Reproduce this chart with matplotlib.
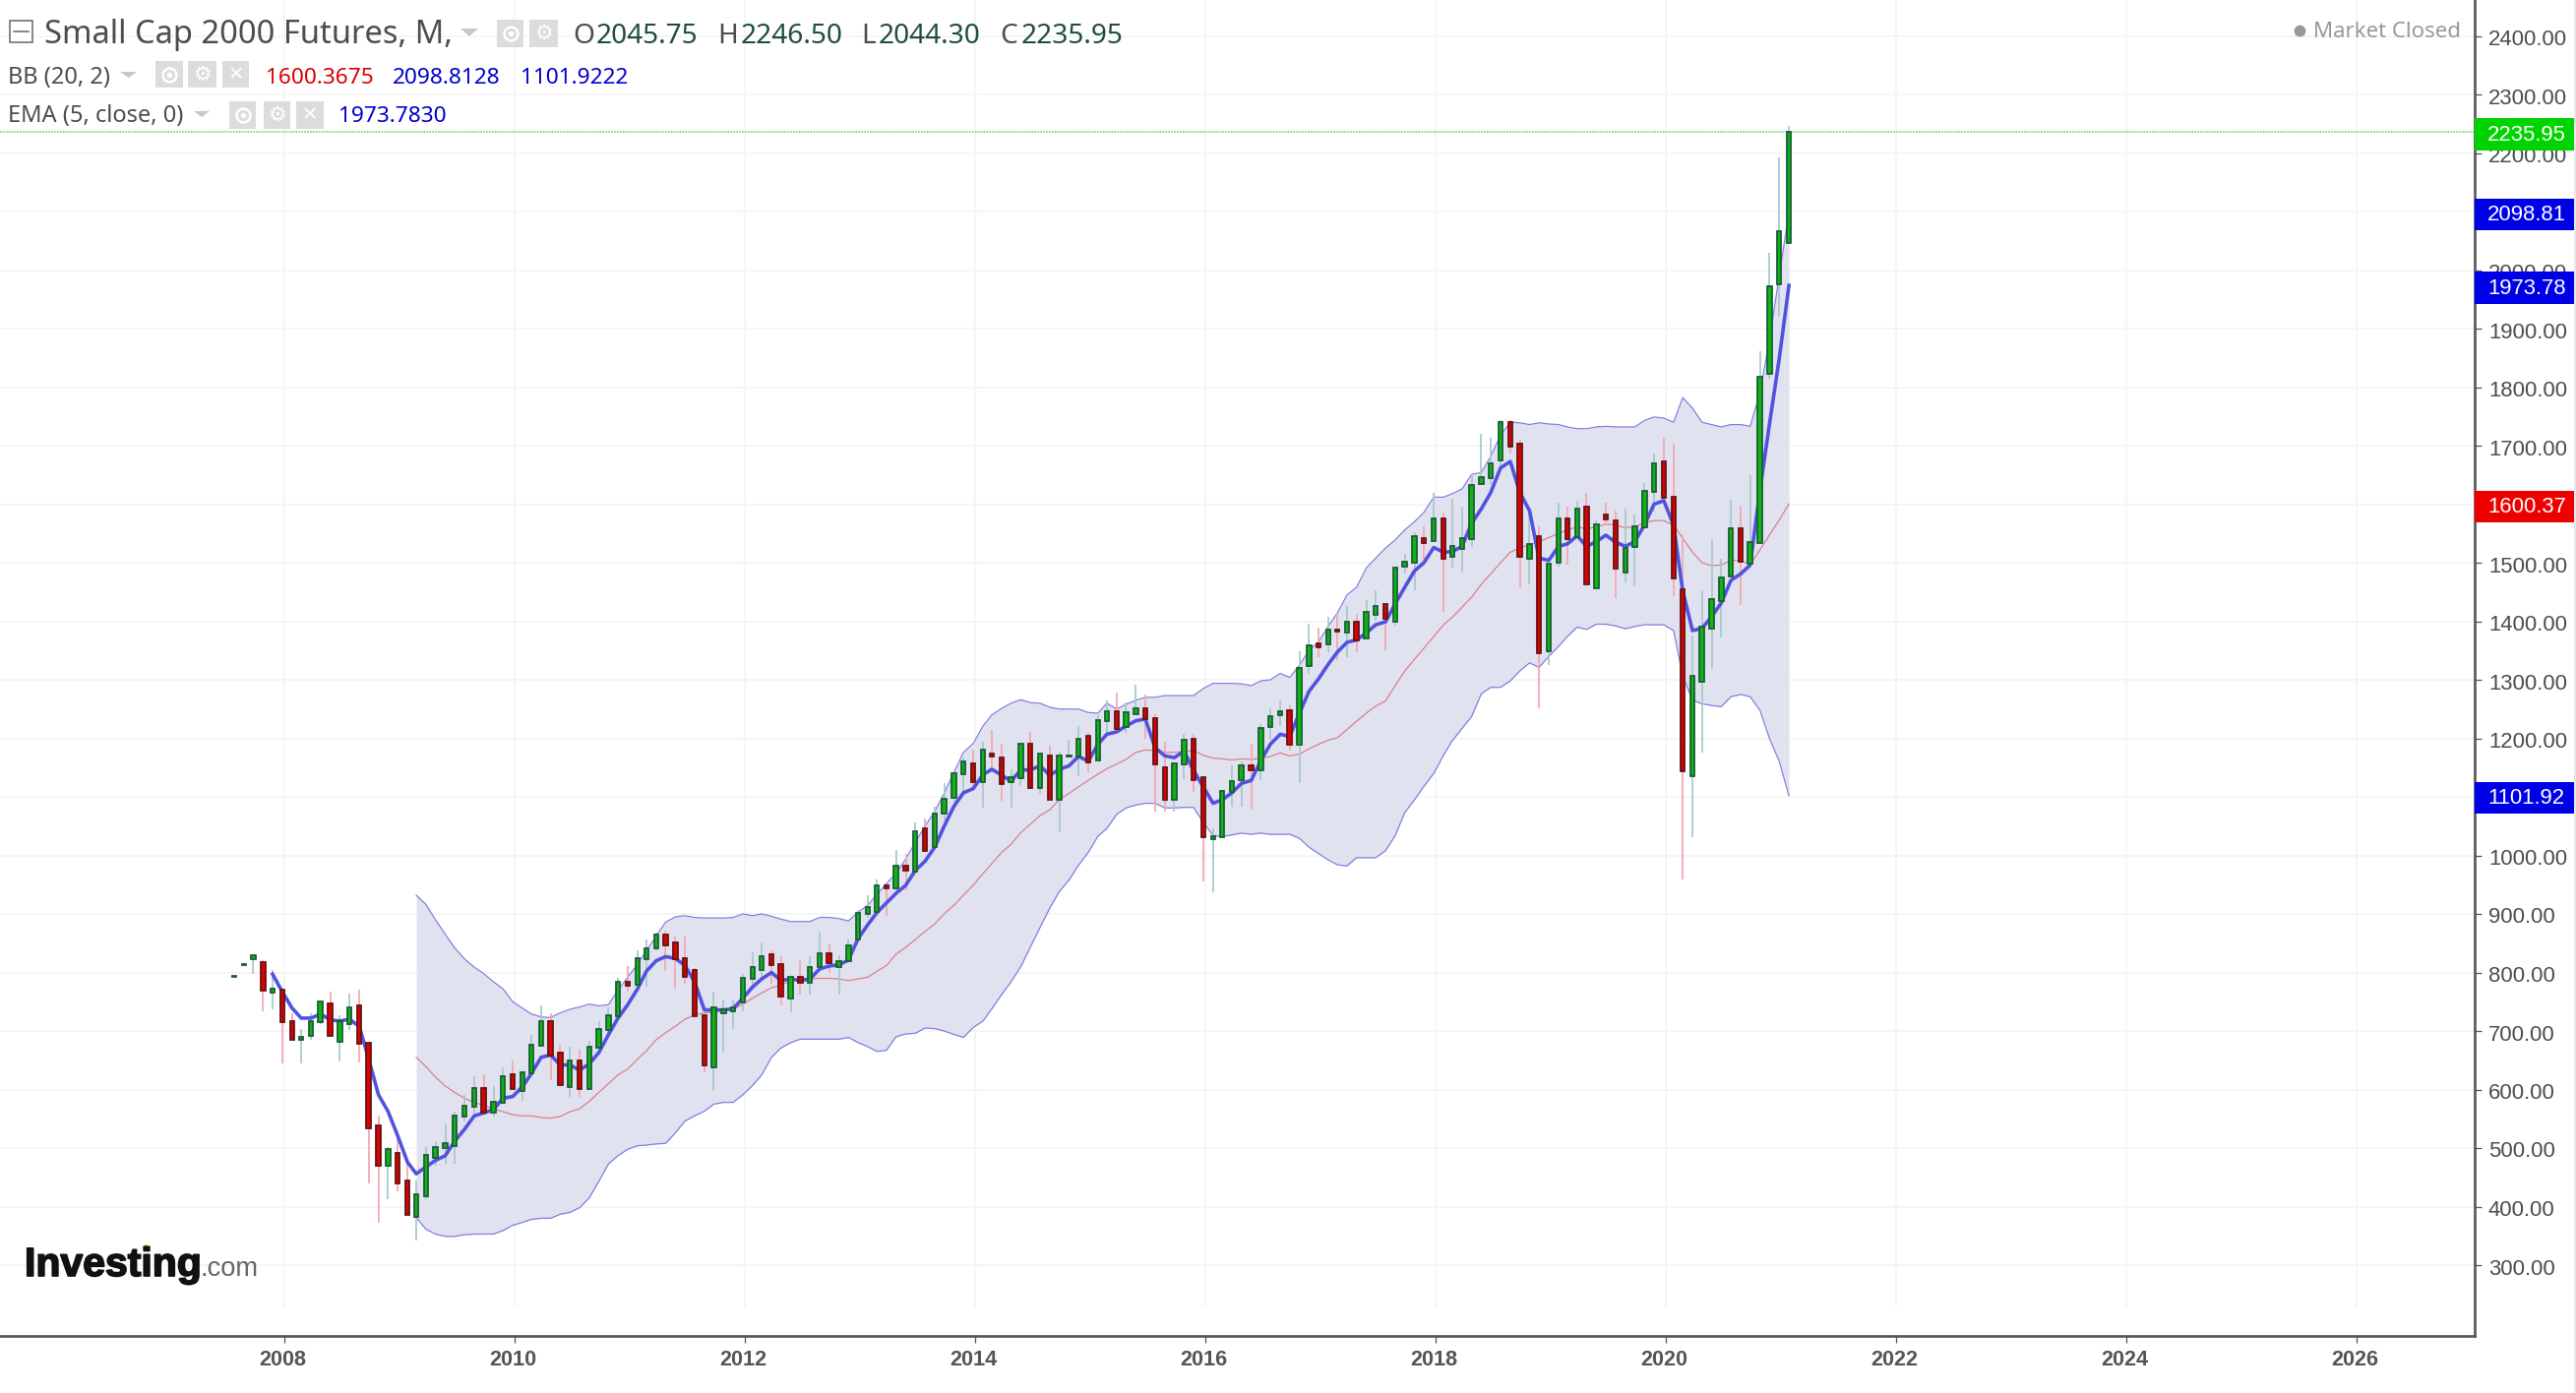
import pandas as pd
import numpy as np
import matplotlib
matplotlib.use("Agg")
import matplotlib.pyplot as plt
import matplotlib.dates as mdates
import matplotlib.patheffects as pe
from matplotlib.patches import Rectangle
from matplotlib.transforms import ScaledTranslation

# monthly candles, Aug 2007 - Feb 2021
opens = [793, 813, 822, 817, 765,
    770, 717, 685, 691, 715, 747, 681, 711, 743, 680, 539, 470,
    492, 445, 383, 417, 483, 500, 503, 554, 571, 602, 560, 577,
    626, 597, 628, 675, 717, 663, 604, 649, 601, 671, 701, 725,
    784, 779, 822, 842, 864, 851, 824, 804, 727, 638, 731, 734,
    748, 789, 805, 831, 814, 755, 793, 782, 809, 833, 809, 819,
    857, 900, 903, 948, 944, 982, 972, 1046, 1014, 1071, 1098, 1138,
    1157, 1125, 1174, 1167, 1125, 1132, 1190, 1115, 1170, 1095, 1169, 1169,
    1204, 1162, 1229, 1247, 1219, 1242, 1251, 1234, 1150, 1095, 1155, 1200,
    1133, 1028, 1031, 1108, 1128, 1153, 1145, 1219, 1239, 1248, 1189, 1323,
    1362, 1360, 1385, 1380, 1399, 1370, 1411, 1429, 1400, 1494, 1500, 1542,
    1537, 1575, 1510, 1524, 1541, 1635, 1645, 1675, 1740, 1703, 1507, 1545,
    1349, 1500, 1575, 1544, 1595, 1457, 1582, 1572, 1484, 1527, 1561, 1621,
    1673, 1612, 1454, 1135, 1297, 1388, 1434, 1477, 1559, 1498, 1534, 1823,
    1976, 2045.75]
highs = [794, 814, 830, 821, 804,
    770, 731, 704, 731, 750, 767, 727, 764, 770, 680, 556, 501,
    519, 473, 445, 502, 512, 542, 563, 591, 623, 626, 606, 637,
    649, 629, 693, 743, 731, 676, 673, 668, 683, 717, 740, 790,
    811, 838, 857, 868, 871, 862, 862, 807, 727, 767, 753, 753,
    798, 834, 851, 837, 827, 793, 821, 827, 870, 850, 830, 857,
    907, 932, 959, 948, 1010, 1002, 1057, 1063, 1084, 1124, 1140, 1167,
    1180, 1194, 1214, 1190, 1147, 1190, 1211, 1174, 1187, 1177, 1198, 1221,
    1210, 1240, 1264, 1278, 1261, 1291, 1274, 1241, 1194, 1157, 1207, 1207,
    1133, 1046, 1112, 1153, 1160, 1190, 1224, 1251, 1265, 1256, 1349, 1396,
    1389, 1408, 1414, 1426, 1412, 1436, 1453, 1429, 1492, 1515, 1552, 1562,
    1620, 1586, 1609, 1596, 1652, 1720, 1713, 1744, 1744, 1710, 1589, 1562,
    1498, 1603, 1596, 1606, 1620, 1572, 1603, 1589, 1593, 1583, 1636, 1687,
    1714, 1704, 1547, 1376, 1453, 1540, 1506, 1607, 1598, 1650, 1862, 2030,
    2192, 2246.5]
lows = [793, 813, 798, 734, 737,
    644, 685, 644, 685, 711, 691, 648, 701, 647, 440, 373, 413,
    426, 386, 342, 412, 469, 473, 473, 546, 554, 560, 554, 577,
    601, 580, 628, 675, 616, 607, 586, 586, 601, 671, 689, 725,
    768, 779, 775, 837, 802, 772, 781, 725, 630, 597, 663, 704,
    733, 778, 792, 781, 744, 732, 762, 762, 809, 799, 762, 819,
    857, 893, 903, 896, 933, 941, 972, 1007, 1014, 1058, 1084, 1106,
    1112, 1081, 1145, 1091, 1081, 1118, 1115, 1105, 1095, 1040, 1169, 1135,
    1142, 1162, 1207, 1216, 1209, 1242, 1199, 1075, 1075, 1075, 1131, 1108,
    956, 937, 1031, 1084, 1084, 1078, 1128, 1198, 1221, 1179, 1124, 1310,
    1339, 1347, 1333, 1339, 1347, 1370, 1401, 1350, 1393, 1482, 1453, 1497,
    1537, 1416, 1490, 1484, 1527, 1635, 1633, 1658, 1687, 1456, 1463, 1251,
    1325, 1494, 1497, 1544, 1463, 1457, 1564, 1440, 1466, 1460, 1561, 1587,
    1611, 1443, 959, 1031, 1176, 1319, 1372, 1477, 1427, 1498, 1534, 1814,
    1920, 2044.3]
closes = [793.5, 813.5, 830, 769, 773,
    715, 685, 690, 717, 750, 691, 717, 740, 678, 534, 470, 498,
    440, 386, 421, 488, 502, 508, 555, 572, 602, 560, 579, 623,
    601, 629, 676, 717, 658, 607, 649, 601, 673, 703, 727, 784,
    778, 824, 841, 864, 846, 822, 792, 725, 641, 740, 737, 740,
    790, 810, 827, 812, 758, 793, 782, 810, 833, 816, 820, 847,
    901, 911, 948, 944, 982, 974, 1042, 1007, 1072, 1096, 1140, 1160,
    1125, 1180, 1169, 1122, 1133, 1190, 1115, 1174, 1095, 1170, 1170, 1200,
    1159, 1231, 1247, 1216, 1244, 1251, 1232, 1155, 1095, 1157, 1197, 1128,
    1031, 1033, 1110, 1127, 1153, 1145, 1217, 1237, 1247, 1189, 1321, 1358,
    1356, 1385, 1383, 1399, 1367, 1416, 1426, 1404, 1492, 1501, 1545, 1534,
    1575, 1507, 1528, 1542, 1632, 1646, 1669, 1740, 1698, 1510, 1532, 1346,
    1498, 1575, 1541, 1592, 1463, 1565, 1574, 1490, 1525, 1562, 1622, 1669,
    1611, 1473, 1144, 1307, 1391, 1438, 1475, 1559, 1501, 1535, 1817, 1973,
    2066, 2235.95]

# EMA (5), starts Dec 2007
ema = [797,
    767, 739, 722, 722, 729, 719, 717, 720, 708, 652, 591, 563,
    521, 476, 456, 468, 479, 487, 512, 532, 555, 560, 566, 585,
    588, 605, 627, 655, 659, 642, 642, 633, 644, 663, 694, 722,
    745, 772, 802, 820, 827, 824, 812, 784, 736, 736, 736, 738,
    756, 775, 789, 800, 786, 789, 786, 789, 806, 811, 813, 821,
    858, 882, 902, 919, 935, 949, 974, 990, 1014, 1050, 1084, 1107,
    1114, 1138, 1147, 1137, 1127, 1146, 1146, 1153, 1137, 1147, 1153, 1169,
    1161, 1190, 1207, 1211, 1221, 1230, 1233, 1184, 1170, 1167, 1178, 1145,
    1117, 1089, 1095, 1107, 1123, 1128, 1162, 1190, 1207, 1203, 1243, 1280,
    1302, 1327, 1347, 1364, 1368, 1380, 1394, 1399, 1430, 1458, 1486, 1500,
    1526, 1518, 1519, 1528, 1567, 1592, 1620, 1662, 1673, 1620, 1589, 1508,
    1504, 1528, 1532, 1546, 1528, 1536, 1547, 1535, 1528, 1536, 1565, 1600,
    1606, 1564, 1452, 1384, 1388, 1408, 1431, 1470, 1481, 1496, 1624, 1736,
    1848, 1973.78]

# Bollinger (20, 2), starts Mar 2009
bb_upper = [932, 916, 890, 865, 842, 823, 809, 798, 784, 772,
    750, 739, 729, 724, 723, 731, 737, 741, 746, 743, 745, 770,
    792, 814, 837, 862, 886, 895, 897, 894, 893, 893, 893, 894,
    900, 897, 900, 896, 891, 887, 887, 887, 894, 894, 892, 888,
    903, 915, 933, 952, 969, 994, 1022, 1050, 1075, 1106, 1142, 1176,
    1191, 1221, 1240, 1251, 1260, 1266, 1261, 1260, 1253, 1250, 1250, 1250,
    1244, 1243, 1260, 1250, 1258, 1265, 1270, 1270, 1273, 1273, 1273, 1273,
    1285, 1294, 1294, 1294, 1293, 1290, 1298, 1300, 1311, 1304, 1325, 1350,
    1365, 1392, 1414, 1445, 1458, 1491, 1508, 1525, 1539, 1556, 1570, 1586,
    1612, 1612, 1618, 1626, 1651, 1654, 1682, 1718, 1740, 1739, 1736, 1739,
    1737, 1736, 1732, 1729, 1729, 1732, 1733, 1732, 1732, 1732, 1743, 1749,
    1747, 1740, 1782, 1764, 1740, 1736, 1732, 1736, 1736, 1733, 1790, 1880,
    1990, 2098.81]
bb_mid = [655, 639, 621, 606, 595, 585, 578, 573, 567, 562,
    557, 555, 555, 552, 551, 554, 562, 567, 580, 595, 610, 625,
    635, 652, 666, 685, 697, 708, 720, 727, 731, 732, 735, 737,
    746, 756, 765, 774, 778, 786, 789, 789, 790, 790, 789, 786,
    789, 792, 802, 812, 831, 843, 856, 870, 883, 900, 915, 932,
    949, 969, 986, 1005, 1019, 1039, 1053, 1068, 1078, 1095, 1106, 1117,
    1128, 1139, 1148, 1156, 1164, 1176, 1180, 1179, 1176, 1176, 1177, 1179,
    1171, 1166, 1165, 1163, 1165, 1164, 1166, 1169, 1175, 1170, 1173, 1182,
    1190, 1197, 1201, 1215, 1229, 1243, 1255, 1264, 1290, 1315, 1335, 1354,
    1374, 1394, 1407, 1424, 1441, 1463, 1481, 1500, 1518, 1525, 1531, 1536,
    1543, 1550, 1556, 1561, 1558, 1561, 1566, 1564, 1560, 1561, 1568, 1572,
    1572, 1564, 1542, 1518, 1500, 1495, 1496, 1504, 1504, 1497, 1522, 1547,
    1573, 1600.37]
bb_lower = [381, 361, 353, 349, 349, 352, 353, 353, 353, 359,
    368, 373, 378, 380, 380, 387, 390, 398, 415, 443, 473, 487,
    498, 504, 505, 507, 508, 526, 546, 555, 563, 575, 578, 578,
    591, 607, 625, 655, 671, 680, 686, 686, 686, 686, 686, 689,
    680, 673, 665, 667, 690, 695, 696, 705, 704, 700, 694, 689,
    706, 717, 738, 762, 784, 810, 843, 877, 910, 938, 958, 983,
    1005, 1033, 1046, 1070, 1081, 1086, 1089, 1089, 1081, 1081, 1082, 1082,
    1056, 1034, 1032, 1035, 1038, 1036, 1038, 1036, 1036, 1036, 1029, 1014,
    1003, 992, 984, 982, 996, 996, 996, 1008, 1034, 1073, 1095, 1118,
    1140, 1171, 1196, 1217, 1237, 1276, 1287, 1287, 1298, 1315, 1329, 1321,
    1340, 1357, 1374, 1390, 1386, 1395, 1395, 1392, 1387, 1391, 1394, 1394,
    1394, 1384, 1307, 1265, 1259, 1256, 1254, 1271, 1275, 1271, 1248, 1200,
    1161, 1101.92]

y_ticks = list(range(300, 2500, 100))
x_years = list(range(2008, 2028, 2))
tag_values = [2235.95, 2098.81, 1973.78, 1600.37, 1101.92]
tag_colors = ["#00d400", "#0000e6", "#0000e6", "#ee0000", "#0000e6"]

W, H = 2618, 1416
DARK = "#4d4d4d"
UI_FONT = "Noto Sans"
AXIS_FONT = "Liberation Sans"

dates = pd.date_range("2007-08-01", periods=len(opens), freq="MS")
x = mdates.date2num(dates) - 5.5  # bars sit a little left of the month start
px_per_day = 117.0 / 365.25

fig = plt.figure(figsize=(W / 100, H / 100), dpi=100, facecolor="white")
ax = fig.add_axes([0, 1 - 1358 / H, 2515 / W, 1358 / H])

# data range so that 2008 lands on px 288.7
x0 = mdates.date2num(pd.Timestamp("2008-01-01"))
ax.set_xlim(x0 - 288.7 / px_per_day, x0 + (2515 - 288.7) / px_per_day)
ax.set_ylim(900 - 429 / 0.595, 900 + 929 / 0.595)

# grid
for v in y_ticks:
    ax.axhline(v, color="#f4f4f4", lw=1.2, zorder=0)
year_x = [mdates.date2num(pd.Timestamp(f"{y}-01-01")) for y in x_years]
ax.vlines(year_x, 228, 2470, color="#f4f4f4", lw=1.2, zorder=0)

# bollinger band
x_bb = x[-len(bb_mid):]
ax.fill_between(x_bb, bb_lower, bb_upper, color="#e1e2ef", lw=0, zorder=1)
ax.plot(x_bb, bb_upper, color="#8080e4", lw=0.9, zorder=2)
ax.plot(x_bb, bb_lower, color="#8080e4", lw=0.9, zorder=2)
ax.plot(x_bb, bb_mid, color="#dc7f8c", lw=0.9, zorder=2)

# candles
is_up = np.array(closes) >= np.array(opens)
wick_colors = ["#a9c9cb" if u else "#f4a9b2" for u in is_up]
ax.vlines(x, lows, highs, colors=wick_colors, lw=1.3, zorder=3)

ax.plot(x[-len(ema):], ema, color="#5252e0", lw=2.6, zorder=4, solid_joinstyle="round")

bottoms = np.minimum(opens, closes)
heights = np.abs(np.array(closes) - np.array(opens))
ax.bar(x, heights, bottom=bottoms, width=4.6 / px_per_day,
       color=["#0cb80c" if u else "#dd0000" for u in is_up],
       edgecolor=["#1c5c3c" if u else "#641414" for u in is_up],
       linewidth=1.3, zorder=5)

# axes
for s in ["left", "top"]:
    ax.spines[s].set_visible(False)
for s in ["right", "bottom"]:
    ax.spines[s].set_color("#555555")
    ax.spines[s].set_linewidth(1.9)

ax.yaxis.tick_right()
ax.set_yticks(y_ticks)
ax.set_yticklabels([f"{v:.2f}" for v in y_ticks], family=AXIS_FONT, fontsize=15.9, color=DARK)
ax.tick_params(axis="y", length=5, width=0.9, color="#555555", pad=5)
down = ScaledTranslation(0, -1.5 / 100, fig.dpi_scale_trans)
for lab in ax.get_yticklabels():
    lab.set_transform(lab.get_transform() + down)
ax.set_xticks(year_x)
ax.set_xticklabels([str(y) for y in x_years], family=AXIS_FONT, fontsize=15.6,
                   fontweight="bold", color="#555555")
ax.tick_params(axis="x", length=5, width=0.9, color="#555555", pad=5)
left = ScaledTranslation(-1.6 / 100, 0, fig.dpi_scale_trans)
for lab in ax.get_xticklabels():
    lab.set_transform(lab.get_transform() + left)

# last price line and price tags
ax.axhline(2235.95, color="#7ee07e", lw=1.3, ls=(0, (1, 0.6)), zorder=2)
trans = ax.get_yaxis_transform()
for v, c in zip(tag_values, tag_colors):
    ax.add_patch(Rectangle((1.0, v - 31), 101 / 2515, 54, transform=trans, color=c,
                           lw=0, clip_on=False, zorder=6))
    ax.text(2528 / 2515, v - 5, f"{v:.2f}", transform=trans, color="white", family=AXIS_FONT,
            fontsize=15.9, va="center", ha="left", clip_on=False, zorder=7)

# overlay in pixel coordinates for the chart header and logo
ov = fig.add_axes([0, 0, 1, 1])
ov.set_xlim(0, W)
ov.set_ylim(H, 0)
ov.axis("off")
ov.patch.set_alpha(0)
ov.add_patch(Rectangle((2616, 0), 2, H, color="#e8e8e8", lw=0))


def icon(x1, x2, y1, y2, kind):
    ov.add_patch(Rectangle((x1, y1), x2 - x1, y2 - y1, color="#dcdcdc", lw=0))
    cx, cy = (x1 + x2) / 2, (y1 + y2) / 2
    if kind == "eye":
        ov.plot(cx, cy, "o", ms=10, mfc="none", mec="white", mew=1.8)
        ov.plot(cx, cy, "o", ms=3, color="white")
    elif kind == "gear":
        ov.text(cx, cy, "\u2699", color="white", fontsize=15, ha="center", va="center",
                family="DejaVu Sans")
    else:
        ov.text(cx, cy, "\u2715", color="white", fontsize=14, ha="center", va="center",
                family="DejaVu Sans")


def tri(x1, x2, y1, y2):
    ov.fill([x1, x2, (x1 + x2) / 2], [y1, y1, y2], color="#c8c8c8", lw=0)


def label(px, py, s, color=DARK, size=16):
    ov.text(px, py, s, color=color, family=UI_FONT, fontsize=size, va="baseline", ha="left")


# row 1
ov.add_patch(Rectangle((10, 21), 23, 22, fc="white", ec="#666666", lw=1.1))
ov.plot([14, 29], [32, 32], color="#666666", lw=1.1)
label(45, 44, "Small Cap 2000 Futures, M,", size=23.5)
tri(468, 486, 29, 37)
icon(505, 532, 20, 48, "eye")
icon(538, 567, 20, 48, "gear")
for px_l, s_l, px_v, s_v in [(582, "O", 606, "2045.75"), (729, "H", 753, "2246.50"),
                             (875, "L", 893, "2044.30"), (1016, "C", 1038, "2235.95")]:
    label(px_l, 44, s_l, size=20.2)
    label(px_v, 44, s_v, color="#1f4f38", size=20.2)

# row 2
label(8, 85, "BB (20, 2)", size=17)
tri(122, 139, 73, 79)
icon(158, 186, 62, 89, "eye")
icon(191, 220, 62, 89, "gear")
icon(226, 253, 62, 89, "x")
label(270, 85, "1600.3675", color="#dd0000", size=16.3)
label(399, 85, "2098.8128", color="#0000cc", size=16.3)
label(529, 85, "1101.9222", color="#0000cc", size=16.3)

# row 3
label(8, 124, "EMA (5, close, 0)", size=17)
tri(197, 213, 113, 119)
icon(233, 260, 103, 131, "eye")
icon(268, 295, 103, 131, "gear")
icon(301, 329, 103, 131, "x")
label(344, 124, "1973.7830", color="#0000cc", size=16.3)

# market status
ov.plot(2337, 31, "o", ms=8.5, color="#999999", mew=0)
label(2351, 38, "Market Closed", color="#999999", size=16)

# logo
ov.text(25, 1297, "Investing", family=AXIS_FONT, fontweight="bold", fontsize=29.5,
        color="#111111", va="baseline",
        path_effects=[pe.withStroke(linewidth=1.2, foreground="#111111")])
ov.text(204, 1297, ".com", family=AXIS_FONT, fontsize=19.6, color="#666666", va="baseline")
ov.plot(148, 1268, "o", ms=4.5, color="#f7a600", mew=0)

fig.savefig("out.png", dpi=100, facecolor="white")
